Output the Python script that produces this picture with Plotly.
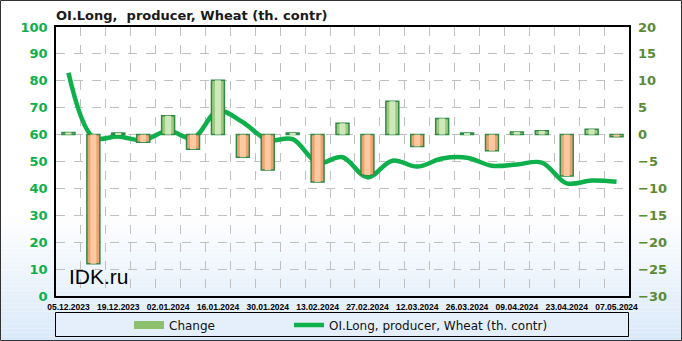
import plotly.graph_objects as go

dates = ["05.12.2023", "12.12.2023", "19.12.2023", "26.12.2023", "02.01.2024", "09.01.2024",
         "16.01.2024", "23.01.2024", "30.01.2024", "06.02.2024", "13.02.2024", "20.02.2024",
         "27.02.2024", "05.03.2024", "12.03.2024", "19.03.2024", "26.03.2024", "02.04.2024",
         "09.04.2024", "16.04.2024", "23.04.2024", "30.04.2024", "07.05.2024"]
change = [0.4, -24.0, 0.3, -1.4, 3.5, -2.7, 10.1, -4.2, -6.6, 0.3, -8.8, 2.1,
          -7.5, 6.2, -2.2, 3.0, 0.3, -3.0, 0.5, 0.7, -7.7, 1.0, -0.4]
oi_long = [83.0, 59.0, 59.3, 57.9, 61.4, 58.7, 68.8, 64.6, 58.0, 58.3, 49.5, 51.6,
           44.1, 50.3, 48.1, 51.1, 51.4, 48.4, 48.9, 49.6, 41.9, 42.9, 42.5]
label_every = 2

W, H = 682, 341
ML, MR, MT, MB = 56, 53, 27, 45
PW, PH = W - ML - MR, H - MT - MB

x = list(range(len(dates)))
outer_colors = ["#9dca7e" if v >= 0 else "#eba373" for v in change]
inner_colors = ["#cfe8bb" if v >= 0 else "#fcc9a0" for v in change]

fig = go.Figure()
fig.add_trace(go.Bar(
    x=x, y=change, yaxis="y2", name="Change", width=0.52, showlegend=False,
    marker=dict(color=outer_colors, line=dict(color="#2f8a46", width=1.5)),
))
fig.add_trace(go.Bar(
    x=x, y=change, yaxis="y2", name="Change-hl", width=0.24, showlegend=False,
    marker=dict(color=inner_colors, line=dict(width=0)), hoverinfo="skip",
))
fig.add_trace(go.Scatter(
    x=x, y=oi_long, yaxis="y", name="OI.Long, producer, Wheat (th. contr)",
    mode="lines", line=dict(color="#0db04b", width=4.5, shape="spline", smoothing=1.0),
    legend="legend2",
))
fig.add_trace(go.Scatter(
    x=[None], y=[None], yaxis="y2", name="Change", mode="lines",
    line=dict(color="#8cc06c", width=8), legend="legend",
))


def px_x(p):
    return (p - ML) / PW


def px_y(p):
    return (H - MB - p) / PH


shapes = []
n = 30
y_start, y_end = 215, 341
for i in range(n):
    y0 = y_start + (y_end - y_start) * i / n
    y1 = y_start + (y_end - y_start) * (i + 1) / n
    t = (i + 0.5) / n
    r = int(255 + (218 - 255) * t)
    g = int(255 + (233 - 255) * t)
    b = int(255 + (249 - 255) * t)
    shapes.append(dict(type="rect", xref="paper", yref="paper", layer="below",
                       x0=px_x(0), x1=px_x(W), y0=px_y(y1), y1=px_y(y0),
                       fillcolor=f"rgb({r},{g},{b})", line=dict(width=0)))
shapes.append(dict(type="rect", xref="paper", yref="paper", layer="below",
                   x0=px_x(55.5), x1=px_x(628.5), y0=px_y(336.5), y1=px_y(312.5),
                   fillcolor="#e4effb", line=dict(color="#000000", width=1)))
shapes.append(dict(type="rect", xref="paper", yref="paper", layer="above",
                   x0=px_x(0.5), x1=px_x(W - 0.5), y0=px_y(H - 0.5), y1=px_y(0.5),
                   line=dict(color="#333333", width=1)))

legend_font = dict(size=12, family="DejaVu Sans, sans-serif", color="#111111")

fig.update_layout(
    width=W, height=H,
    margin=dict(l=ML, r=MR, t=MT, b=MB, pad=0, autoexpand=False),
    paper_bgcolor="white",
    plot_bgcolor="rgba(0,0,0,0)",
    barmode="overlay",
    font=dict(family="Liberation Sans, Arial, sans-serif", color="#000000"),
    title=dict(text="<b>OI.Long,  producer, Wheat (th. contr)</b>",
               x=px_x(56), xref="paper", xanchor="left",
               y=1 - 15 / H, yanchor="middle",
               font=dict(size=13, color="#1a1a1a", family="DejaVu Sans, sans-serif")),
    showlegend=True,
    legend=dict(orientation="h", x=px_x(129), xanchor="left",
                y=px_y(325), yanchor="middle", bgcolor="rgba(0,0,0,0)",
                borderwidth=0, font=legend_font),
    legend2=dict(orientation="h", x=px_x(289), xanchor="left",
                 y=px_y(325), yanchor="middle", bgcolor="rgba(0,0,0,0)",
                 borderwidth=0, font=legend_font),
    xaxis=dict(
        range=[-0.5, len(dates) - 0.5],
        tickmode="array",
        tickvals=x[::label_every],
        ticktext=["<b>" + d + "</b>" for d in dates[::label_every]],
        tickfont=dict(size=8.5, family="Liberation Sans, Arial, sans-serif", color="#000000"),
        tickangle=0,
        showgrid=False,
        ticks="", ticklen=0, ticklabelstandoff=2,
        showline=True, linecolor="#000000", linewidth=1.5, mirror=True,
        zeroline=False,
        minor=dict(tick0=0.5, dtick=1, showgrid=True, gridcolor="#c0c0c0",
                   griddash="dash", gridwidth=1, ticks=""),
    ),
    yaxis=dict(
        range=[0, 100], dtick=10, tick0=0,
        tickfont=dict(size=13, color="#0db04b", family="DejaVu Sans, sans-serif"),
        showgrid=True, gridcolor="#c0c0c0", griddash="dash", gridwidth=1,
        showline=True, linecolor="#000000", linewidth=1.5, mirror=True,
        zeroline=False, ticks="", ticklabelstandoff=4,
        tickprefix="<b>", ticksuffix="</b>",
    ),
    yaxis2=dict(
        range=[-30, 20], dtick=5, tick0=0,
        overlaying="y", side="right",
        tickfont=dict(size=13, color="#5a8a35", family="DejaVu Sans, sans-serif"),
        showgrid=False, zeroline=False, ticks="", ticklabelstandoff=8,
        tickprefix="<b>", ticksuffix="</b>",
    ),
    shapes=shapes,
    annotations=[dict(text="IDK.ru", xref="paper", yref="paper",
                      x=px_x(67), y=px_y(276), xanchor="left", yanchor="middle",
                      showarrow=False,
                      font=dict(size=21, color="#000000", family="Liberation Sans, Arial, sans-serif"))],
)

fig.write_html("out.html")
